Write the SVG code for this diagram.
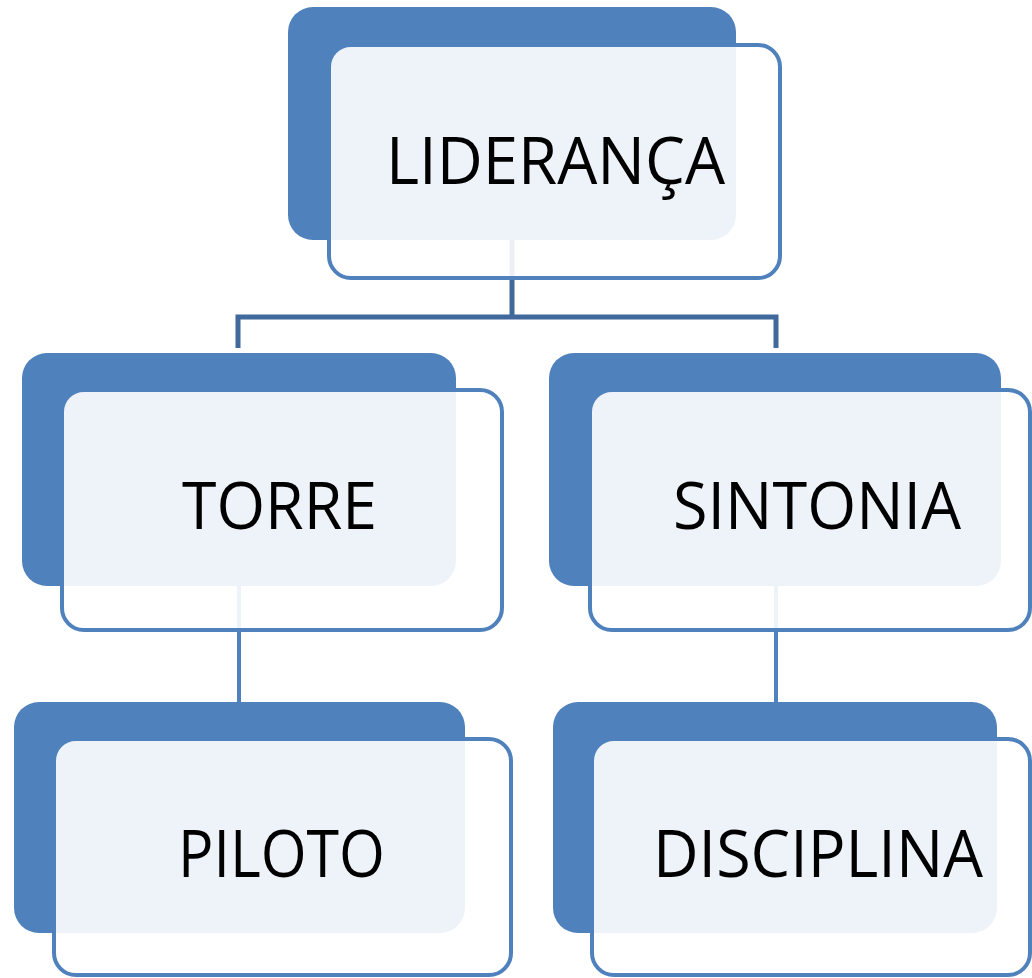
<svg xmlns="http://www.w3.org/2000/svg" width="1032" height="978" viewBox="0 0 1032 978">
<style>
.back{fill:#4f81bd}
.front{fill:#ffffff;fill-opacity:0.9;stroke:#4f81bd;stroke-width:4}
.lbl{font-family:"Open Sans","DejaVu Sans",sans-serif;font-size:66px;fill:#000000}
.c1{fill:none;stroke:#41699b;stroke-width:5}
.c2{fill:none;stroke:#4f81bd;stroke-width:4}
</style>
<rect width="1032" height="978" fill="#ffffff"/>
<g id="connectors">
<path class="c1" d="M512 240 V317 M238 348 V317 H776 V348"/>
<path class="c2" d="M239 586 V702"/>
<path class="c2" d="M776 586 V702"/>
</g>
<g id="node-lideranca">
<rect class="back" x="288" y="7" width="448" height="233" rx="25"/>
<rect class="front" x="329" y="45" width="451" height="233" rx="22"/>
<text class="lbl" x="386" y="184" textLength="339" lengthAdjust="spacingAndGlyphs">LIDERANÇA</text>
</g>
<g id="node-torre">
<rect class="back" x="22" y="353" width="434" height="233" rx="25"/>
<rect class="front" x="62" y="390" width="440" height="240" rx="22"/>
<text class="lbl" x="182" y="529" textLength="195" lengthAdjust="spacingAndGlyphs">TORRE</text>
</g>
<g id="node-sintonia">
<rect class="back" x="549" y="353" width="452" height="233" rx="25"/>
<rect class="front" x="590" y="390" width="440" height="240" rx="22"/>
<text class="lbl" x="673" y="529" textLength="288" lengthAdjust="spacingAndGlyphs">SINTONIA</text>
</g>
<g id="node-piloto">
<rect class="back" x="14" y="702" width="451" height="231" rx="25"/>
<rect class="front" x="54" y="739" width="457" height="236" rx="22"/>
<text class="lbl" x="178" y="877" textLength="207" lengthAdjust="spacingAndGlyphs">PILOTO</text>
</g>
<g id="node-disciplina">
<rect class="back" x="553" y="702" width="444" height="231" rx="25"/>
<rect class="front" x="592" y="739" width="438" height="236" rx="22"/>
<text class="lbl" x="653" y="877" textLength="330" lengthAdjust="spacingAndGlyphs">DISCIPLINA</text>
</g>
</svg>
